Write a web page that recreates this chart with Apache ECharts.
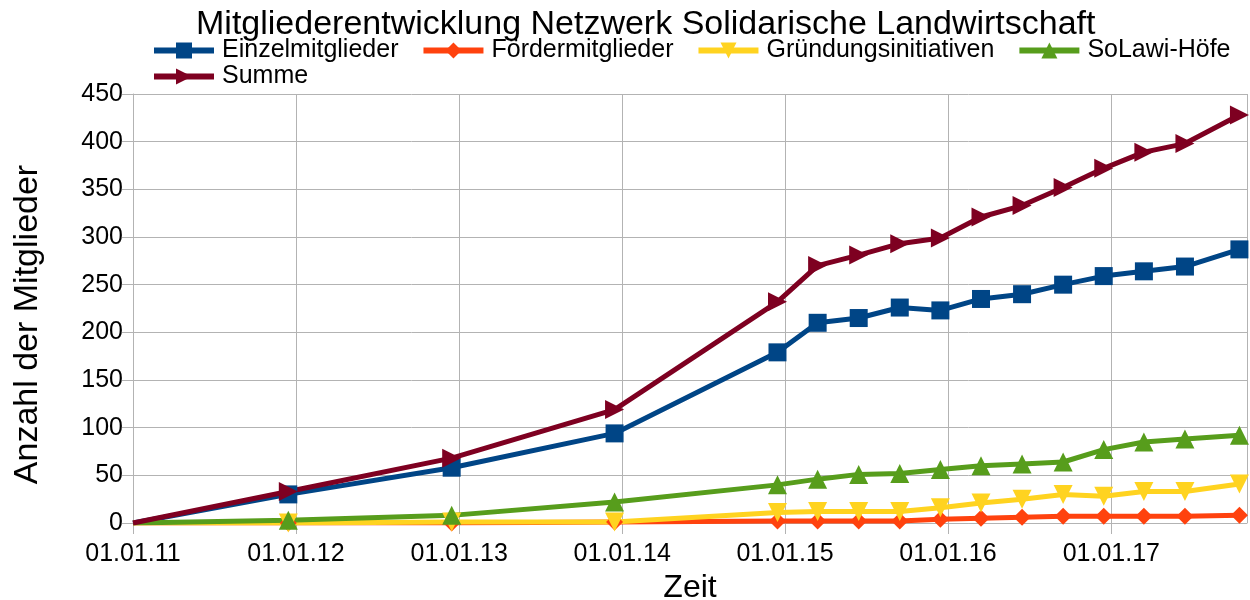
<!DOCTYPE html>
<html>
<head>
<meta charset="utf-8">
<script src="https://cdn.jsdelivr.net/npm/echarts@6/dist/echarts.min.js"></script>
<style>
  html, body { margin: 0; padding: 0; background: #fff; }
  #chart { width: 1250px; height: 600px; }
</style>
</head>
<body>
<div id="chart"></div>
<script>
// Stichtage (erster Punkt = Start bei 0)
const dates = [
  '2011-01-01', '2011-12-15', '2012-12-15', '2013-12-15', '2014-12-15',
  '2015-03-15', '2015-06-15', '2015-09-15', '2015-12-15',
  '2016-03-15', '2016-06-15', '2016-09-15', '2016-12-15',
  '2017-03-15', '2017-06-15', '2017-10-15'
]

const einzelmitglieder      = [0, 30, 58, 94, 179, 210, 215, 226, 223, 235, 240, 250, 259, 264, 269, 287]
const foerdermitglieder     = [0, 0, 0, 1, 2, 2, 2, 2, 4, 5, 6, 7, 7, 7, 7, 8]
const gruendungsinitiativen = [0, 0, 1, 1, 11, 12, 12, 12, 16, 21, 25, 30, 28, 33, 33, 41]
const solawiHoefe           = [0, 3, 8, 22, 40, 46, 51, 52, 56, 60, 62, 64, 77, 85, 88, 92]
const summe                 = [0, 33, 68, 119, 232, 270, 281, 293, 299, 321, 333, 352, 372, 389, 398, 428]

const names = ['Einzelmitglieder', 'Fördermitglieder', 'Gründungsinitiativen', 'SoLawi-Höfe', 'Summe']
const colors = ['#004586', '#ff420e', '#ffd320', '#579d1c', '#7e0021']

const font = 'Liberation Sans, Arial, sans-serif'
const gridColor = '#b3b3b3'

function toData(vals) {
    return dates.map((d, i) => i === 0 ? { value: [d, vals[i]], symbol: 'none' } : [d, vals[i]])
}

function makeSeries(name, vals, color, symbol, size, rotate) {
    return {
        name: name,
        type: 'line',
        data: toData(vals),
        symbol: symbol,
        symbolSize: size,
        symbolRotate: rotate,
        showAllSymbol: true,
        color: color,
        lineStyle: { width: 5, color: color },
        itemStyle: { color: color },
        emphasis: { disabled: true }
    }
}

const legendBase = {
    left: 146,
    itemWidth: 60,
    itemHeight: 20,
    itemGap: 22,
    lineStyle: { width: 6 },
    textStyle: { fontFamily: font, fontSize: 25, color: '#000', padding: [0, 0, 0, 3] }
}

const myChart = echarts.init(document.getElementById('chart'))
const option = {
    backgroundColor: '#fff',
    animation: false,
    title: {
        text: 'Mitgliederentwicklung Netzwerk Solidarische Landwirtschaft',
        left: 191,
        top: 3,
        textStyle: { fontFamily: font, fontSize: 34, fontWeight: 'normal', color: '#000' }
    },
    legend: [
        Object.assign({}, legendBase, { data: names.slice(0, 4), top: 33 }),
        Object.assign({}, legendBase, { data: ['Summe'], top: 59 })
    ],
    grid: { left: 133, right: 3, top: 94, bottom: 77, outerBoundsMode: 'none', containLabel: false },
    xAxis: {
        type: 'time',
        min: '2011-01-01',
        max: '2017-11-01',
        minInterval: 365 * 24 * 3600 * 1000,
        maxInterval: 366 * 24 * 3600 * 1000,
        name: 'Zeit',
        nameLocation: 'middle',
        nameGap: 46,
        nameTextStyle: { fontFamily: font, fontSize: 32, color: '#000' },
        axisLine: { lineStyle: { color: gridColor } },
        axisTick: { show: true, length: 11, lineStyle: { color: gridColor } },
        splitLine: { show: true, lineStyle: { color: gridColor } },
        axisLabel: {
            fontFamily: font,
            fontSize: 25,
            color: '#000',
            margin: 19,
            showMaxLabel: false,
            formatter: function (val) {
                return echarts.time.format(val, '{dd}.{MM}.{yy}', false)
            }
        }
    },
    yAxis: {
        type: 'value',
        min: 0,
        max: 450,
        interval: 50,
        name: 'Anzahl der Mitglieder',
        nameLocation: 'middle',
        nameGap: 88,
        nameTextStyle: { fontFamily: font, fontSize: 34, color: '#000', padding: [0, 32, 0, 0] },
        axisLine: { show: true, lineStyle: { color: gridColor } },
        axisTick: { show: true, length: 11, lineStyle: { color: gridColor } },
        splitLine: { show: true, lineStyle: { color: gridColor } },
        axisLabel: { fontFamily: font, fontSize: 25, color: '#000', margin: 10 }
    },
    series: [
        makeSeries(names[0], einzelmitglieder, colors[0], 'rect', 18, 0),
        makeSeries(names[1], foerdermitglieder, colors[1], 'diamond', 17, 0),
        makeSeries(names[2], gruendungsinitiativen, colors[2], 'triangle', 19, 180),
        makeSeries(names[3], solawiHoefe, colors[3], 'triangle', 19, 0),
        makeSeries(names[4], summe, colors[4], 'triangle', 19, -90)
    ]
}
myChart.setOption(option)
</script>
</body>
</html>
